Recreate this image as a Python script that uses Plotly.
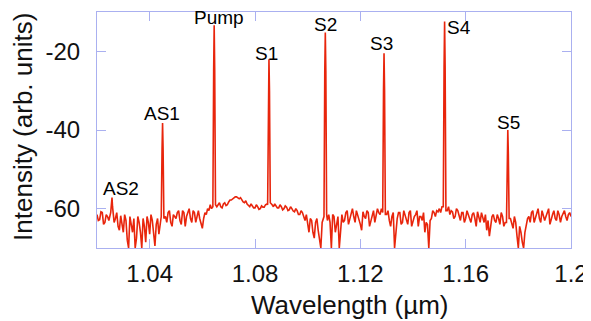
import numpy as np
import plotly.graph_objects as go

# Noise floor samples, one every 0.001 um from 1.020 to 1.200
base_start = 1.020
base_step = 0.001
base_y = [
    -61.5, -62.8, -61.0, -63.5, -62.0, -60.5, -61.0, -62.5, -64.5, -61.8,
    -66.0, -63.0, -70.0, -64.0, -62.5, -67.5, -63.5, -70.0, -64.5, -62.0,
    -66.5, -63.0, -69.5, -62.5, -64.0, -63.0, -62.0, -61.0, -63.5, -61.5,
    -62.5, -60.5, -64.0, -61.0, -62.0, -60.0, -63.5, -61.0, -61.5, -62.5,
    -65.0, -61.0, -60.0, -59.0, -59.5, -59.0, -59.0, -59.5, -58.8, -59.2,
    -58.3, -57.8, -57.3, -57.0, -57.5, -57.8, -58.5, -58.8, -59.5, -59.3,
    -59.8, -59.5, -60.0, -59.6, -59.0, -59.0, -58.5, -59.5, -59.2, -59.8,
    -59.5, -60.0, -59.6, -60.3, -60.0, -60.8, -60.5, -61.5, -61.0, -63.0,
    -64.5, -62.5, -66.0, -63.5, -65.5, -70.0, -63.0, -62.0, -61.5, -70.0,
    -62.0, -64.0, -70.0, -61.5, -63.0, -60.5, -62.5, -60.0, -63.5, -61.5,
    -64.0, -60.8, -62.5, -61.0, -63.0, -60.5, -62.0, -61.0, -60.0, -61.0,
    -61.5, -63.0, -62.0, -70.0, -62.5, -61.0, -63.5, -61.5, -64.0, -60.5,
    -63.0, -61.5, -64.5, -62.0, -61.0, -63.5, -70.0, -62.5, -61.0, -60.5,
    -60.0, -59.5, -60.0, -60.5, -61.5, -60.8, -62.0, -60.5, -63.0, -61.0,
    -62.5, -61.5, -63.5, -61.0, -64.5, -62.0, -61.0, -63.5, -65.5, -67.0,
    -62.0, -63.0, -61.5, -64.0, -62.0, -63.5, -63.0, -62.5, -65.0, -63.5,
    -70.0, -66.0, -70.0, -64.0, -62.0, -61.0, -63.5, -61.5, -62.5, -60.5,
    -63.0, -61.0, -64.0, -61.5, -62.5, -60.5, -63.5, -61.0, -62.0, -61.5,
    -62.0,
]
# Noise floor samples in between, from 1.0205 to 1.1995
mid_start = 1.0205
mid_y = [
    -63.0, -60.8, -64.0, -61.5, -63.0, -60.0, -63.5, -61.0, -65.5, -63.5,
    -61.5, -68.0, -62.0, -66.0, -70.0, -62.0, -66.0, -62.5, -68.5, -63.5,
    -61.5, -67.0, -64.0, -66.5, -63.0, -61.5, -63.5, -60.5, -64.5, -62.0,
    -61.0, -63.0, -60.5, -64.5, -61.0, -62.5, -60.5, -63.5, -60.5, -64.0,
    -62.5, -61.5, -60.5, -60.0, -60.0, -59.5, -58.5, -59.8, -58.5, -59.0,
    -57.8, -57.5, -57.0, -57.3, -57.2, -58.3, -58.0, -59.2, -58.8, -59.8,
    -59.0, -60.2, -59.3, -59.6, -58.8, -59.0, -59.0, -58.8, -59.8, -59.0,
    -60.3, -59.3, -60.5, -59.5, -60.6, -60.0, -61.5, -60.5, -62.0, -61.5,
    -66.0, -63.0, -67.5, -62.5, -68.0, -63.5, -62.0, -63.0, -63.5, -61.5,
    -66.0, -62.0, -64.5, -63.5, -61.0, -64.0, -61.0, -62.0, -60.5, -62.5,
    -65.5, -62.0, -60.5, -64.5, -61.5, -63.5, -60.0, -61.5, -61.0, -61.0,
    -60.5, -64.5, -61.0, -66.0, -61.0, -64.0, -60.5, -62.5, -61.0, -64.5,
    -62.0, -60.5, -62.0, -63.0, -66.0, -64.0, -63.0, -60.5, -62.0, -60.8,
    -61.0, -60.0, -60.0, -59.5, -60.5, -62.5, -60.0, -61.5, -61.0, -63.5,
    -60.5, -62.8, -61.5, -62.5, -60.8, -63.5, -62.5, -61.5, -63.0, -64.5,
    -61.5, -63.5, -62.5, -61.0, -64.5, -63.0, -63.0, -64.0, -62.0, -67.0,
    -64.5, -68.5, -66.0, -62.5, -63.5, -60.5, -62.5, -60.0, -63.5, -61.5,
    -62.0, -60.0, -62.5, -60.5, -63.0, -61.5, -62.0, -60.5, -63.0, -61.0,
]

# Emission lines (narrow spikes): sample points of each spike
peak_names = ["AS2", "AS1", "Pump", "S1", "S2", "S3", "S4", "S5"]
peak_x = [
    [1.0252, 1.0255, 1.0257, 1.0259, 1.0262],
    [1.0444, 1.0447, 1.0449, 1.0451, 1.0454],
    [1.0640, 1.0643, 1.0645, 1.0647, 1.0650],
    [1.0848, 1.0851, 1.0853, 1.0855, 1.0858],
    [1.1062, 1.1065, 1.1067, 1.1069, 1.1072],
    [1.1285, 1.1288, 1.1290, 1.1292, 1.1295],
    [1.1515, 1.1518, 1.1520, 1.1522, 1.1525],
    [1.1755, 1.1758, 1.1760, 1.1762, 1.1765],
]
peak_y = [
    [-61.0, -59.0, -57.2, -59.5, -62.0],
    [-62.0, -45.0, -38.2, -45.0, -62.5],
    [-59.5, -25.0, -13.4, -25.0, -59.0],
    [-59.0, -30.0, -22.0, -30.0, -58.5],
    [-62.0, -25.0, -15.2, -25.0, -61.5],
    [-61.0, -30.0, -20.5, -30.0, -61.5],
    [-59.5, -24.0, -12.4, -24.0, -60.5],
    [-63.5, -46.0, -40.0, -46.0, -62.5],
]
# label positions (data coords)
label_x = [1.0291, 1.0445, 1.0664, 1.0845, 1.1068, 1.1279, 1.1574, 1.1762]
label_y = [-54.9, -35.7, -11.4, -20.5, -13.2, -18.0, -13.9, -38.0]

x_ticks = [1.04, 1.08, 1.12, 1.16, 1.2]
x_tick_text = ["1.04", "1.08", "1.12", "1.16", "1.2"]
y_ticks = [-20, -40, -60]
y_tick_text = ["-20", "-40", "-60"]

# merge noise floor and spikes
bx = np.concatenate([base_start + base_step * np.arange(len(base_y)),
                     mid_start + base_step * np.arange(len(mid_y))])
by = np.array(base_y + mid_y, dtype=float)
centers = np.array([px[2] for px in peak_x])
keep = np.array([np.min(np.abs(centers - v)) > 0.00075 for v in bx])
allx = np.concatenate([bx[keep]] + [np.array(p) for p in peak_x])
ally = np.concatenate([by[keep]] + [np.array(p) for p in peak_y])
order = np.argsort(allx)
allx, ally = allx[order], ally[order]

fig = go.Figure()
fig.add_trace(go.Scatter(x=allx, y=ally, mode="lines",
                         line=dict(color="#e8250c", width=1.6),
                         showlegend=False))

FONT = "Liberation Sans, Arial"
for name, lx, ly in zip(peak_names, label_x, label_y):
    fig.add_annotation(x=lx, y=ly, text=name, showarrow=False,
                       xanchor="center", yanchor="middle",
                       font=dict(family=FONT, size=19, color="black"))

# axis titles
fig.add_annotation(xref="paper", yref="paper", x=0.534, y=-0.24,
                   text="Wavelength (µm)", showarrow=False,
                   xanchor="center", yanchor="middle",
                   font=dict(family=FONT, size=26, color="#111111"))
fig.add_annotation(xref="paper", yref="paper", x=-0.155, y=0.511,
                   text="Intensity (arb. units)", showarrow=False, textangle=-90,
                   xanchor="center", yanchor="middle",
                   font=dict(family=FONT, size=26, color="#111111"))

# the page body adds an 8px offset, so the margins are reduced by 8px on left/top
axis_col = "#aab0f0"
fig.update_layout(
    width=591, height=321,
    margin=dict(l=89, r=28, t=4, b=81, autoexpand=False),
    paper_bgcolor="white", plot_bgcolor="white",
    font=dict(family=FONT, color="black"),
    xaxis=dict(range=[1.02, 1.2], tickvals=x_ticks, ticktext=x_tick_text,
               ticks="inside", ticklen=9, tickcolor=axis_col, tickwidth=1,
               showline=True, linecolor=axis_col, linewidth=1, mirror="ticks",
               showgrid=False, zeroline=False, automargin=False,
               tickfont=dict(size=24, color="#111111"), ticklabelstandoff=4),
    yaxis=dict(range=[-70, -10], tickvals=y_ticks, ticktext=y_tick_text,
               ticks="inside", ticklen=9, tickcolor=axis_col, tickwidth=1,
               showline=True, linecolor=axis_col, linewidth=1, mirror="ticks",
               showgrid=False, zeroline=False, automargin=False,
               tickfont=dict(size=24, color="#111111"), ticklabelstandoff=11),
)

fig.write_html("out.html")
